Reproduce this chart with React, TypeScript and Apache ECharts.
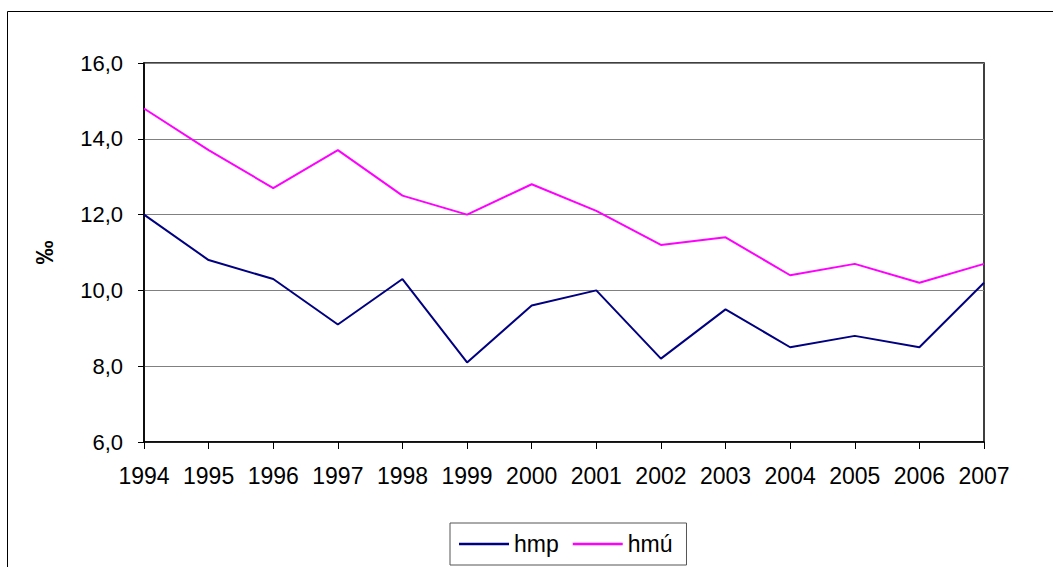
import React, { useEffect, useRef } from "react";
import * as echarts from "echarts";

const years = ["1994", "1995", "1996", "1997", "1998", "1999", "2000", "2001", "2002", "2003", "2004", "2005", "2006", "2007"];
const hmp = [12.0, 10.8, 10.3, 9.1, 10.3, 8.1, 9.6, 10.0, 8.2, 9.5, 8.5, 8.8, 8.5, 10.2];
const hmu = [14.8, 13.7, 12.7, 13.7, 12.5, 12.0, 12.8, 12.1, 11.2, 11.4, 10.4, 10.7, 10.2, 10.7];

const FONT = "'Liberation Sans', Arial, sans-serif";

export default function App() {
  const ref = useRef<HTMLDivElement>(null);
  useEffect(() => {
    const chart = echarts.init(ref.current!, null, { renderer: "svg" });
    chart.setOption({
      animation: false,
      backgroundColor: "#fff",
      textStyle: { fontFamily: FONT },
      graphic: [
        {
          type: "rect",
          shape: { x: 7.5, y: 11.5, width: 1050, height: 600 },
          style: { fill: "none", stroke: "#000", lineWidth: 1 },
          silent: true,
        },
      ],
      grid: {
        left: 144,
        top: 63,
        width: 840,
        height: 379,
        show: true,
        borderColor: "#000",
        borderWidth: 1.5,
        backgroundColor: "transparent",
      },
      legend: {
        left: 450,
        top: 523,
        icon: "rect",
        itemWidth: 50,
        itemHeight: 2.5,
        itemGap: 14,
        padding: [9, 14, 9, 9],
        borderColor: "#555",
        borderWidth: 1,
        textStyle: { fontSize: 23, color: "#000", fontFamily: FONT, lineHeight: 24 },
        data: ["hmp", "hmú"],
      },
      xAxis: {
        type: "category",
        data: years,
        boundaryGap: false,
        axisLine: { lineStyle: { color: "#000", width: 1.5 } },
        axisTick: { show: true, length: 7, interval: 0, lineStyle: { color: "#000" }, alignWithLabel: true },
        axisLabel: { fontSize: 23, color: "#000", margin: 22, fontFamily: FONT, interval: 0, hideOverlap: false },
        splitLine: { show: false },
      },
      yAxis: {
        type: "value",
        min: 6,
        max: 16,
        interval: 2,
        name: "‰",
        nameLocation: "middle",
        nameRotate: 90,
        nameGap: 88,
        nameTextStyle: { fontSize: 24, fontWeight: "bold", color: "#000", fontFamily: FONT },
        axisLine: { show: true, lineStyle: { color: "#000", width: 1.5 } },
        axisTick: { show: true, length: 6, lineStyle: { color: "#000" } },
        axisLabel: {
          fontSize: 22,
          color: "#000",
          margin: 21,
          fontFamily: FONT,
          formatter: (v: number) => v.toFixed(1).replace(".", ","),
        },
        splitLine: { show: true, lineStyle: { color: "#808080", width: 1 } },
      },
      series: [
        {
          name: "hmp",
          type: "line",
          data: hmp,
          symbol: "none",
          lineStyle: { color: "#000080", width: 2 },
          itemStyle: { color: "#000080" },
        },
        {
          name: "hmú",
          type: "line",
          data: hmu,
          symbol: "none",
          lineStyle: { color: "#FF00FF", width: 2 },
          itemStyle: { color: "#FF00FF" },
        },
      ],
    });
    return () => chart.dispose();
  }, []);
  return (
    <div
      ref={ref}
      style={{ position: "fixed", left: 0, top: 0, width: 1053, height: 567 }}
    />
  );
}
